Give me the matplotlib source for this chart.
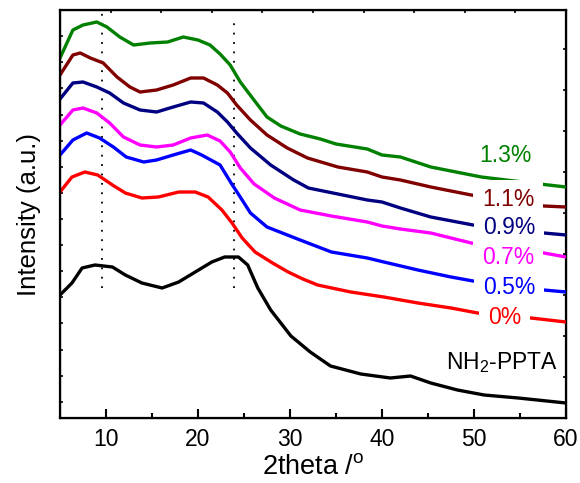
import numpy as np
import matplotlib
matplotlib.use("Agg")
import matplotlib.pyplot as plt

plt.rcParams['font.family'] = ['Liberation Sans', 'DejaVu Sans']
plt.rcParams['mathtext.fontset'] = 'custom'
plt.rcParams['mathtext.rm'] = 'Liberation Sans'

# --- XRD patterns (2theta, offset intensity in a.u.) ---
tt_13 = [5, 6.4, 7.5, 9, 10.1, 11.5, 13, 14.8, 16.7, 18.4, 20, 21.3, 22.4, 23.5, 24.6, 26,
         27.5, 29, 31.1, 33.3, 35, 38.4, 40, 42, 45.3, 50.8, 56.2, 60]
int_13 = [360, 388, 393, 396, 391, 381, 373, 375, 376, 381, 378, 373, 364, 353, 336, 319,
          301, 292, 284, 279, 274, 269, 263, 261, 251, 241, 235, 231]

tt_11 = [5, 6.4, 7.2, 8.3, 9.7, 11.2, 12.6, 13.7, 15.5, 17.3, 19.2, 20.6, 22.1, 23.2, 24.2,
         25.7, 27.5, 29.7, 31.9, 35.2, 38.4, 40, 42, 45.3, 49.7, 57.6, 60]
int_11 = [343, 363, 365, 360, 355, 341, 331, 326, 328, 333, 340, 340, 333, 325, 313,
          298, 283, 270, 260, 251, 246, 241, 238, 231, 223, 212, 211]

tt_09 = [5, 6.4, 7.5, 9, 10.4, 11.9, 13.7, 15.5, 17.3, 19.2, 20.6, 22.1, 23.2, 24.2, 25.7,
         27.9, 30.4, 32, 35.2, 38.4, 40, 42, 45.3, 49.9, 57.6, 60]
int_09 = [319, 335, 336, 331, 325, 315, 308, 306, 311, 316, 315, 306, 296, 285, 270,
          253, 238, 230, 224, 218, 216, 210, 201, 193, 185, 183]

tt_07 = [5, 6.4, 7.5, 9, 10.4, 11.9, 13.7, 15.5, 17.3, 19.2, 21, 22.4, 23.5, 24.6, 26.1,
         28.3, 31.1, 34.5, 38.4, 40, 42, 45.3, 49.7, 57.6, 60]
int_07 = [293, 308, 310, 305, 295, 281, 273, 271, 273, 280, 283, 277, 266, 250, 234,
          220, 208, 202, 196, 192, 189, 185, 175, 165, 161]

tt_05 = [5, 6.4, 7.9, 9.3, 10.8, 12.2, 14.1, 15.5, 17.3, 19.2, 20.4, 22.4, 23.6, 24.8, 25.7,
         27.5, 31.1, 34.5, 38.4, 40.2, 43.9, 47.5, 49.9, 57.6, 60]
int_05 = [263, 278, 285, 280, 271, 261, 256, 258, 263, 268, 263, 253, 235, 218, 205,
          191, 178, 166, 160, 156, 148, 141, 137, 128, 126]

tt_00 = [5, 6.3, 7.7, 9.1, 10.7, 12.1, 13.9, 15.7, 17.9, 19.7, 21.1, 22.6, 23.7, 24.8, 26.2,
         28.1, 29.8, 31.4, 33, 36.6, 40.2, 43.9, 47.5, 50.4, 56.2, 60]
int_00 = [226, 241, 246, 243, 233, 225, 220, 221, 226, 226, 221, 208, 195, 180, 166,
          155, 146, 139, 133, 126, 121, 115, 110, 105, 100, 96]

tt_nh = [5, 6.3, 7.4, 8.8, 10.7, 12.1, 13.9, 16.1, 17.9, 19.7, 21.5, 22.9, 24.4, 25.4, 26.5,
         27.9, 30.1, 32.2, 34.4, 37.7, 40.9, 43.1, 45.3, 48.2, 51.1, 54.8, 60]
int_nh = [123, 135, 150, 153, 151, 143, 135, 130, 136, 146, 156, 161, 161, 153, 130,
          108, 82, 66, 52, 44, 40, 42, 35, 28, 23, 20, 15]

series = [
    (tt_13, int_13, "#008000", "1.3%"),
    (tt_11, int_11, "#800000", "1.1%"),
    (tt_09, int_09, "#000080", "0.9%"),
    (tt_07, int_07, "#ff00ff", "0.7%"),
    (tt_05, int_05, "#0000ff", "0.5%"),
    (tt_00, int_00, "#ff0000", "0%"),
    (tt_nh, int_nh, "black", "NH$_2$-PPTA"),
]

# label anchors (2theta, intensity)
label_x = [53.4, 53.7, 53.8, 53.7, 53.8, 53.3, 53.0]
label_y = [263, 218, 190, 161, 131, 101, 55]
label_box = [False, True, True, True, True, True, False]

# reference peak positions
ref_peaks = [9.6, 23.9]
ref_top = [408, 398]

fig = plt.figure(figsize=(5.8, 4.83), dpi=100)
ax = fig.add_axes([60/580, 65/483, 506/580, 408/483])

for (x, y, c, name), lx, ly, boxed in zip(series, label_x, label_y, label_box):
    ax.plot(x, y, color=c, linewidth=2.4, zorder=3)
    kw = dict(color=c, fontsize=16.5, ha="center", va="center", zorder=6)
    if boxed:
        kw["bbox"] = dict(facecolor="white", edgecolor="none", pad=6.5)
    ax.text(lx, ly, name, **kw)

for px, top in zip(ref_peaks, ref_top):
    ax.plot([px, px], [130, top], color="black", linewidth=1.3,
            linestyle=(0, (1, 4.2)), zorder=2)

ax.set_xlim(5, 60)
ax.set_ylim(0, 408)
ax.set_xticks([10, 20, 30, 40, 50, 60])
ax.set_xticks([15, 25, 35, 45, 55], minor=True)
ax.set_yticks(16.3 + 26.1 * np.arange(16))
ax.set_yticklabels([])
ax.tick_params(axis="x", which="major", direction="in", length=6.5, width=1.5,
               labelsize=16.5, pad=7)
ax.tick_params(axis="x", which="minor", direction="in", length=3.5, width=1.5)
ax.tick_params(axis="y", which="major", direction="in", length=2.5, width=1.2)
for s in ax.spines.values():
    s.set_linewidth(1.6)

ax.set_xlabel("2theta /$^\\mathrm{o}$", fontsize=19.5, labelpad=2)
ax.set_ylabel("Intensity (a.u.)", fontsize=18.5, labelpad=10)

# secondary top / right ticks
axt = ax.twiny()
axt.set_xlim(0, 10)
axt.set_xticks(np.arange(1, 10))
axt.set_xticklabels([])
axt.tick_params(axis="x", direction="in", length=2.5, width=1.2)

axr = ax.twinx()
axr.set_ylim(0, 408)
axr.set_yticks(np.arange(41, 408, 41))
axr.set_yticklabels([])
axr.tick_params(axis="y", direction="in", length=2.5, width=1.2)

fig.savefig("out.png", dpi=100)
